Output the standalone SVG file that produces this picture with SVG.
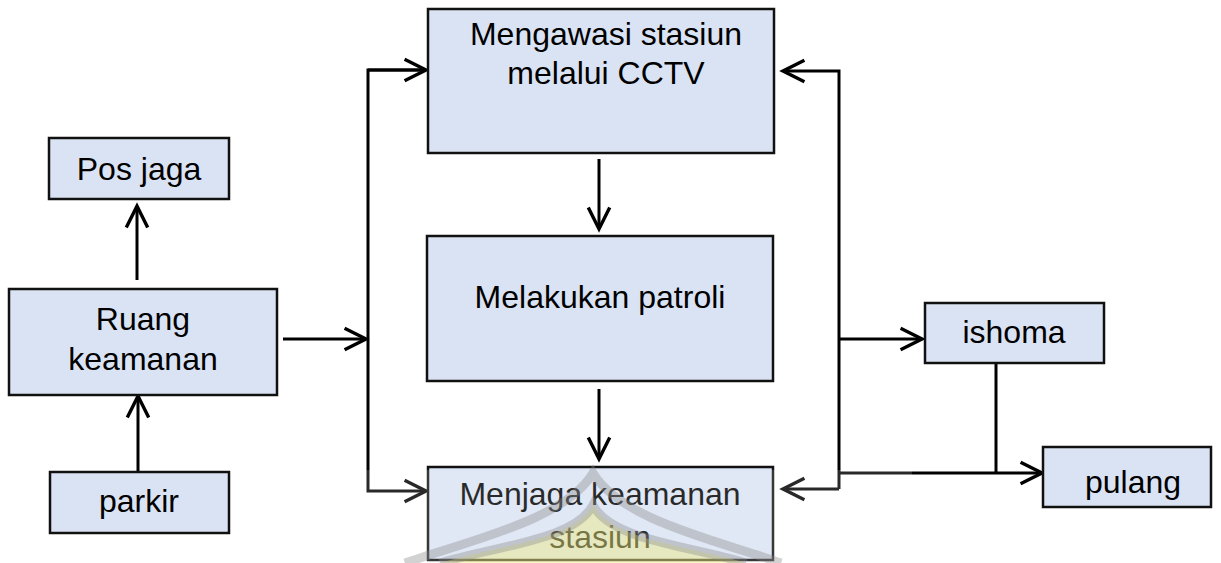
<svg xmlns="http://www.w3.org/2000/svg" width="1221" height="563" viewBox="0 0 1221 563">
  <defs>
    <style>
      .box { fill: #dae3f3; stroke: #111; stroke-width: 2.5; }
      .lbl { font-family: "Liberation Sans", Arial, sans-serif; font-size: 32px; fill: #000; text-anchor: middle; }
      .wire { fill: none; stroke: #000; stroke-width: 3; }
    </style>
    <marker id="arrow" markerUnits="userSpaceOnUse" markerWidth="30" markerHeight="30" viewBox="-24 -14 28 28" refX="0" refY="0" orient="auto" overflow="visible">
      <path d="M-20,-10 L0,0 L-20,10" fill="none" stroke="#000" stroke-width="3.2"/>
    </marker>
  </defs>

  <rect width="1221" height="563" fill="#fff"/>

  <!-- connectors -->
  <g id="connectors" class="wire">
    <!-- parkir to Ruang keamanan, Ruang keamanan to Pos jaga -->
    <line x1="138" y1="471" x2="138" y2="396" marker-end="url(#arrow)"/>
    <line x1="137" y1="280" x2="137" y2="206" marker-end="url(#arrow)"/>
    <!-- Ruang keamanan into the left bus -->
    <line x1="283" y1="339" x2="366" y2="339" marker-end="url(#arrow)"/>
    <!-- left bus -->
    <polyline points="426,70 368,70 368,491 426,491" marker-end="url(#arrow)"/>
    <line x1="368" y1="70" x2="426" y2="70" marker-end="url(#arrow)"/>
    <!-- central column -->
    <line x1="599" y1="159" x2="599" y2="229" marker-end="url(#arrow)"/>
    <line x1="599" y1="389" x2="599" y2="459" marker-end="url(#arrow)"/>
    <!-- right bus -->
    <polyline points="839,489 839,71 783,71" marker-end="url(#arrow)"/>
    <line x1="839" y1="489" x2="783" y2="489" marker-end="url(#arrow)"/>
    <line x1="839" y1="339" x2="922" y2="339" marker-end="url(#arrow)"/>
    <line x1="996" y1="363" x2="996" y2="473"/>
    <line x1="839" y1="473" x2="1042" y2="473" marker-end="url(#arrow)"/>
  </g>

  <g id="pos-jaga">
    <rect class="box" x="49" y="138" width="180" height="61"/>
    <text class="lbl" x="139" y="180">Pos jaga</text>
  </g>
  <g id="ruang-keamanan">
    <rect class="box" x="9" y="289" width="268" height="106"/>
    <text class="lbl" x="143" y="330">Ruang</text>
    <text class="lbl" x="143" y="370">keamanan</text>
  </g>
  <g id="parkir">
    <rect class="box" x="50" y="472" width="179" height="61"/>
    <text class="lbl" x="139" y="512">parkir</text>
  </g>
  <g id="mengawasi">
    <rect class="box" x="428" y="9" width="346" height="144"/>
    <text class="lbl" x="606" y="45">Mengawasi stasiun</text>
    <text class="lbl" x="606" y="84">melalui CCTV</text>
  </g>
  <g id="patroli">
    <rect class="box" x="427" y="236" width="346" height="145"/>
    <text class="lbl" x="600" y="308">Melakukan patroli</text>
  </g>
  <g id="menjaga">
    <rect class="box" x="428" y="467" width="345" height="93"/>
    <text class="lbl" x="600" y="505">Menjaga keamanan</text>
    <text class="lbl" x="600" y="548">stasiun</text>
  </g>
  <g id="ishoma">
    <rect class="box" x="925" y="303" width="179" height="60"/>
    <text class="lbl" x="1014" y="343">ishoma</text>
  </g>
  <g id="pulang">
    <rect class="box" x="1043" y="447" width="168" height="60"/>
    <text class="lbl" x="1133" y="493">pulang</text>
  </g>

  <!-- faint emblem laid over the lower middle -->
  <g id="emblem">
    <rect x="300" y="470" width="612" height="93" fill="#fff" opacity="0.16"/>
    <path d="M440,563 C500,545 575,540 593,505 C611,540 686,545 746,563 Z" fill="#f0ea70" opacity="0.4"/>
    <g fill="none" stroke="#8a8a8a" stroke-width="9" opacity="0.38">
      <path d="M405,563 C470,540 565,520 593,473 C621,520 716,540 781,563"/>
      <path d="M440,563 C500,545 575,540 593,505 C611,540 686,545 746,563"/>
    </g>
  </g>
</svg>
